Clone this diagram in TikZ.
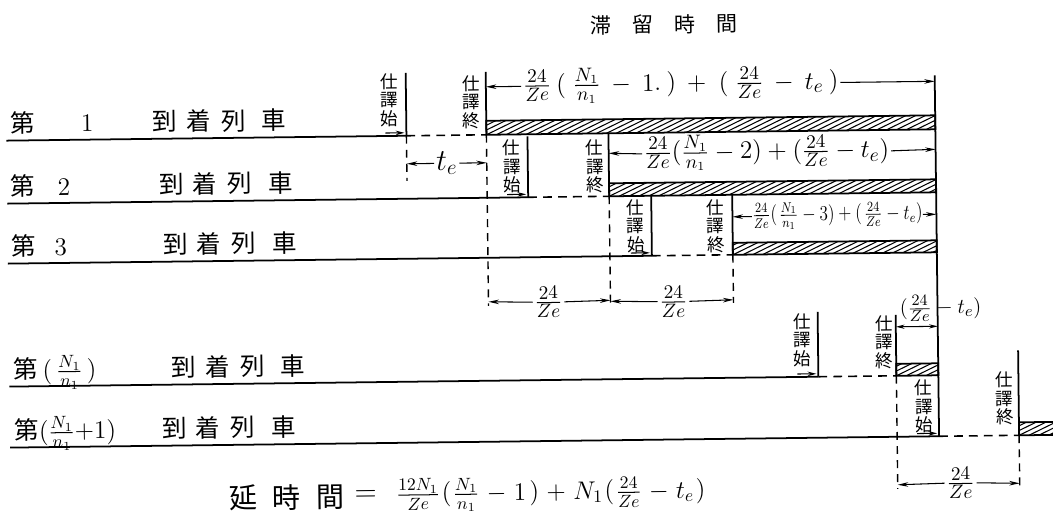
\documentclass[tikz,border=0pt]{standalone}
\usepackage{fontspec}
\usepackage{amsmath}
\usepackage{graphicx}
\newfontfamily\jp{Noto Sans CJK JP}
\usetikzlibrary{arrows.meta}
\newcommand\tzf{\tfrac{24}{Ze}}
\newcommand\nnf{\tfrac{N_1}{n_1}}
\newcommand\hatchrect[4]{%
  \begin{scope}
    \clip (#1,#2) rectangle (#3,#4);
    \foreach \k in {0,10,...,560} \draw[line width=0.6pt] ({#1+\k-40},#4) -- ++(40,-19);
  \end{scope}
  \draw[line width=1pt] (#1,#2) rectangle (#3,#4);}
\begin{document}
\begin{tikzpicture}[x=0.02cm,y=-0.02cm,
  trainline/.style={line width=1pt},
  waitline/.style={line width=0.9pt, dash pattern=on 5pt off 3.5pt},
  guide/.style={line width=0.8pt, dash pattern=on 4.5pt off 3.5pt},
  dim/.style={line width=0.6pt, -{Stealth[length=6pt,width=2.6pt]}},
  dimboth/.style={line width=0.6pt, {Stealth[length=5pt,width=2.4pt]}-{Stealth[length=5pt,width=2.4pt]}},
  smallarr/.style={line width=0.6pt, -{Stealth[length=5pt,width=2.6pt]}},
  jchar/.style={font=\jp\fontsize{14}{16}\selectfont, inner sep=0pt, anchor=base},
  jword/.style={font=\jp\fontsize{14}{16}\selectfont, inner sep=0pt, anchor=base west},
  numlab/.style={font=\fontsize{15}{17}\selectfont, inner sep=0pt, anchor=base},
  vlab/.style={font=\jp\fontsize{10}{10.6}\selectfont, align=center, inner sep=0pt},
  fml/.style={font=\fontsize{15}{18}\selectfont, inner sep=1pt},
  every node/.style={transform shape}
]
\useasboundingbox (0,0) rectangle (1053,527);
\begin{scope}[rotate around={0.7:(470,263)}]
% ---- title
\node[font=\jp\fontsize{12}{14}\selectfont, inner sep=0pt] (title) at (667,27) {滞\hspace{12pt}留\hspace{12pt}時\hspace{12pt}間};

% ---- key points of the five trains
\coordinate (a1) at (8,135);  \coordinate (s1) at (408,135);  \coordinate (e1) at (488,135);
\coordinate (a2) at (8,198);  \coordinate (s2) at (529,198);  \coordinate (e2) at (610,198);
\coordinate (a3) at (8,258);  \coordinate (s3) at (652,258);  \coordinate (e3) at (733,258);
\coordinate (aN) at (8,381);  \coordinate (sN) at (817,381);  \coordinate (eN) at (895,381);
\coordinate (aM) at (8,442);  \coordinate (sM) at (937,442);  \coordinate (eM) at (1017,442);
\coordinate (rt) at (937,81);

% ---- hatched dwell bars
\hatchrect{488}{121}{937}{135}
\hatchrect{610}{185}{937}{198}
\hatchrect{733}{246}{937}{258}
\hatchrect{895}{369}{937}{381}
\begin{scope}
  \clip (1017,429) rectangle (1060,442);
  \foreach \k in {0,10,...,80} \draw[line width=0.6pt] ({1017+\k-40},442) -- ++(40,-19);
\end{scope}
\draw[line width=1pt] (1060,429) -- (1017,429) -- (1017,442) -- (1060,442);

% ---- train lines
\draw[trainline] (a1) -- (s1);  \draw[waitline] (s1) -- (e1);
\draw[trainline] (a2) -- (s2);  \draw[waitline] (s2) -- (e2);
\draw[trainline] (a3) -- (s3);  \draw[waitline] (s3) -- (e3);
\draw[trainline] (aN) -- (sN);  \draw[waitline] (sN) -- (eN);
\draw[trainline] (aM) -- (sM);  \draw[waitline] (sM) -- (eM);

% ---- start / end bars
\draw[trainline] (s1) -- (408,72);
\draw[trainline] (e1) -- (488,72);
\draw[trainline] (s2) -- (529,137);
\draw[trainline] (e2) -- (610,135);
\draw[trainline] (s3) -- (652,198);
\draw[trainline] (e3) -- (733,198);
\draw[trainline] (sN) -- (817,316);
\draw[trainline] (eN) -- (895,320);
\draw[trainline] (rt) -- (sM);
\draw[trainline] (eM) -- (1017,357);

% ---- dashed guides
\draw[guide] (s1) -- (408,180);
\draw[guide] (e1) -- (488,306);
\draw[guide] (e2) -- (610,306);
\draw[guide] (e3) -- (733,306);
\draw[guide] (eN) -- (895,494);
\draw[guide] (eM) -- (1017,494);

% ---- small arrows into the start corners
\draw[smallarr] (387,132) -- (406,132);
\draw[smallarr] (508,195) -- (527,195);
\draw[smallarr] (631,255) -- (650,255);
\draw[smallarr] (796,378) -- (815,378);
\draw[smallarr] (915,439) -- (935,439);

% ---- vertical labels
\node[vlab] (st1) at (391,99)  {仕\\譯\\始};
\node[vlab] (en1) at (473,102) {仕\\譯\\終};
\node[vlab] (st2) at (513,167) {仕\\譯\\始};
\node[vlab] (en2) at (596,168) {仕\\譯\\終};
\node[vlab] (st3) at (636,228) {仕\\譯\\始};
\node[vlab] (en3) at (716,229) {仕\\譯\\終};
\node[vlab] (stN) at (801,344) {仕\\譯\\始};
\node[vlab] (enN) at (883,347) {仕\\譯\\終};
\node[vlab] (stM) at (922,412) {仕\\譯\\始};
\node[vlab] (enM) at (1003,405) {仕\\譯\\終};

% ---- row labels
\node[jchar] (c1) at (24,127) {第};  \node[numlab] (n1) at (89,127) {$1$};
\node[jword] (w1) at (154,127) {到\hspace{5pt}着\hspace{6pt}列\hspace{9pt}車};
\node[jchar] (c2) at (24,190) {第};  \node[numlab] (n2) at (65,190) {$2$};
\node[jword] (w2) at (160,190) {到\hspace{5pt}着\hspace{6pt}列\hspace{9pt}車};
\node[jchar] (c3) at (24,250) {第};  \node[numlab] (n3) at (61,250) {$3$};
\node[jword] (w3) at (163,250) {到\hspace{5pt}着\hspace{6pt}列\hspace{9pt}車};
\node[jword] (cN) at (12,373) {第$\,(\,\tfrac{N_1}{n_1}\,)$};
\node[jword] (wN) at (170,373) {到\hspace{5pt}着\hspace{6pt}列\hspace{9pt}車};
\node[jword] (cM) at (12,434) {第$(\tfrac{N_1}{n_1}{+}1)$};
\node[jword] (wM) at (160,434) {到\hspace{5pt}着\hspace{6pt}列\hspace{9pt}車};

% ---- dwell-time formulas with arrows
\node[fml] (f1) at (683,87) {$\tzf\hspace{3pt}(\hspace{4pt}\nnf\hspace{3pt}-\hspace{3pt}1.\hspace{3pt})\hspace{3pt}+\hspace{4pt}(\hspace{4pt}\tzf\hspace{3pt}-\hspace{3pt}t_e\hspace{3pt})$};
\draw[dim] (f1.west) -- (488,87);
\draw[dim] (f1.east) -- (rt|-f1.east);
\node[fml] (f2) at (768,156) {$\tzf(\nnf-2)+(\tzf-t_e)$};
\draw[dim] (f2.west) -- (610,155);
\draw[dim] (f2.east) -- (937,155);
\node[fml, font=\fontsize{12}{14}\selectfont, inner sep=0pt] (f3) at (838,220) {\scalebox{0.82}[1]{$\tzf(\hspace{1.5pt}\nnf-3)+(\hspace{1.5pt}\tzf-t_e)$}};
\draw[dim] (f3.west) -- (733,220);
\draw[dim] (f3.east) -- (937,220);
\node[fml, font=\fontsize{13}{15}\selectfont, anchor=south west] (fN) at (897,329) {$(\tzf-t_e)$};
\draw[dimboth] (895,332) -- (937,332);

% ---- interval dimensions
\node[fml, font=\fontsize{17}{19}\selectfont] (te) at (448,163) {$t_e$};
\draw[dim] (te.west) -- (408,163);
\draw[dim] (te.east) -- (488,163);
\node[fml] (d1) at (548,303) {$\tzf$};
\draw[dim] (d1.west) -- (488,302);
\draw[dim] (d1.east) -- (610,302);
\node[fml] (d2) at (673,304) {$\tzf$};
\draw[dim] (d2.west) -- (610,303);
\draw[dim] (d2.east) -- (733,303);
\node[fml] (d3) at (958,489) {$\tzf$};
\draw[dim] (d3.west) -- (895,490);
\draw[dim] (d3.east) -- (1017,490);

% ---- total delay
\node[font=\jp\fontsize{16}{19}\selectfont, inner sep=0pt] (delay) at (284,495) {延\hspace{9pt}時\hspace{9pt}間};
\node[font=\fontsize{16}{19}\selectfont, inner sep=0pt] (eq) at (363,495) {$=$};
\node[font=\fontsize{14.5}{17}\selectfont, inner sep=0pt] (total) at (548,495)
  {$\tfrac{12N_1}{Ze}\hspace{1pt}(\hspace{1pt}\nnf\hspace{1pt}-\hspace{1pt}1\hspace{2pt})\hspace{1pt}+\hspace{1pt}N_1\hspace{1pt}(\hspace{1pt}\tzf\hspace{1pt}-\hspace{1pt}t_e\hspace{1pt})$};
\end{scope}
\end{tikzpicture}
\end{document}
